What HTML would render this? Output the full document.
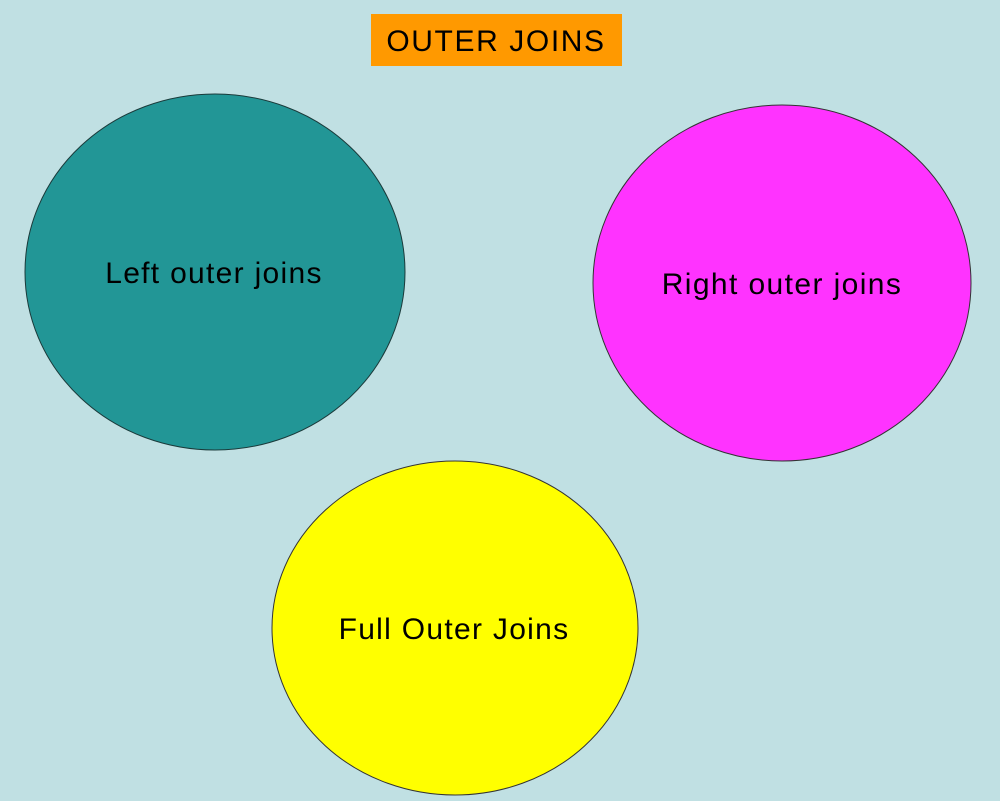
<!DOCTYPE html>
<html><head><style>
html,body{margin:0;padding:0;background:#c0e0e3;}
text{font-family:"Liberation Sans",sans-serif;font-size:30px;letter-spacing:1.3px;}
</style></head><body>
<svg width="1000" height="801" xmlns="http://www.w3.org/2000/svg" style="display:block">
<rect width="1000" height="801" fill="#c0e0e3"/>
<rect x="371" y="14" width="251" height="52" fill="#ff9900"/>
<text x="496" y="51" text-anchor="middle" fill="#000" style="letter-spacing:1.6px">OUTER JOINS</text>
<ellipse cx="215" cy="272" rx="190" ry="178" fill="#229696" stroke="#1a3a3a" stroke-width="1"/>
<text x="214" y="283" text-anchor="middle" fill="#000">Left outer joins</text>
<ellipse cx="782" cy="283" rx="189" ry="178" fill="#ff33ff" stroke="#333" stroke-width="1"/>
<text x="782" y="294" text-anchor="middle" fill="#000" style="letter-spacing:1.4px">Right outer joins</text>
<ellipse cx="455" cy="628" rx="183" ry="167" fill="#ffff00" stroke="#333" stroke-width="1"/>
<text x="454" y="639" text-anchor="middle" fill="#000">Full Outer Joins</text>
</svg>
</body></html>
